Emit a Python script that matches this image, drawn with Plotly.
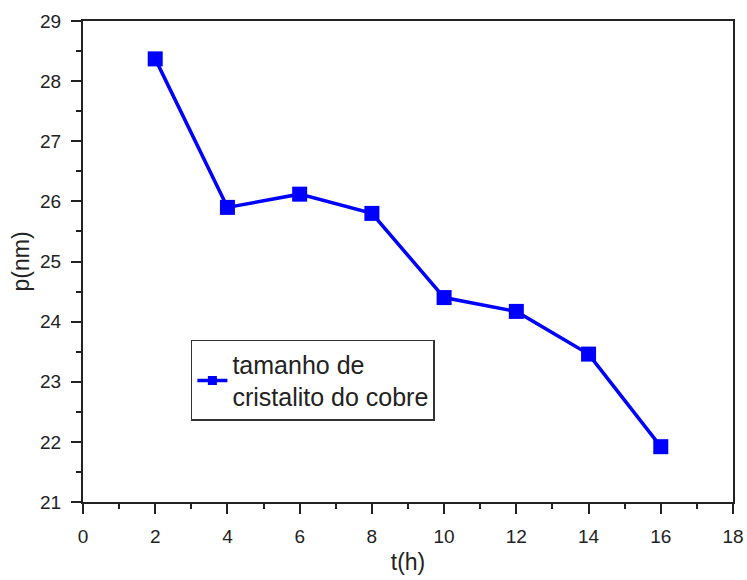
import plotly.graph_objects as go

t_hours = [2, 4, 6, 8, 10, 12, 14, 16]
p_nm = [28.37, 25.9, 26.12, 25.8, 24.4, 24.17, 23.46, 21.92]
series_name = "tamanho de<br>cristalito do cobre"

font = "Liberation Sans, Arial, sans-serif"
blue = "#0000ff"

fig = go.Figure()
fig.add_trace(go.Scatter(
    x=t_hours, y=p_nm, mode="lines+markers", name=series_name,
    line=dict(color=blue, width=3.5),
    marker=dict(symbol="square", size=15, color=blue),
    showlegend=False,
))
# legend entry with a smaller marker, like the reference
fig.add_trace(go.Scatter(
    x=[None], y=[None], mode="lines+markers", name=series_name,
    line=dict(color=blue, width=3.5),
    marker=dict(symbol="square", size=9, color=blue),
))

axis_common = dict(
    showline=True, linecolor="#222", linewidth=2, mirror=True,
    ticks="outside", ticklen=10, tickwidth=2, tickcolor="#222",
    ticklabelstandoff=6, automargin=False,
    showgrid=False, zeroline=False,
    tickfont=dict(family=font, size=19, color="#222"),
    minor=dict(ticks="outside", ticklen=5, tickwidth=2, tickcolor="#222", showgrid=False),
)

fig.update_xaxes(range=[0, 18], dtick=2, minor_dtick=1,
                 title=dict(text="t(h)", font=dict(family=font, size=23, color="#222"), standoff=8),
                 **axis_common)
fig.update_yaxes(range=[21, 29], dtick=1, minor_dtick=0.5,
                 title=dict(text="p(nm)", font=dict(family=font, size=23, color="#222"), standoff=4),
                 **axis_common)

fig.update_layout(
    width=747, height=580,
    margin=dict(l=83, r=14, t=21, b=78),
    plot_bgcolor="white", paper_bgcolor="white",
    showlegend=True,
    legend=dict(x=0.166, y=0.337, xanchor="left", yanchor="top",
                bordercolor="#333", borderwidth=1.5, bgcolor="white",
                tracegroupgap=0, itemwidth=30,
                font=dict(family=font, size=25, color="#222")),
)

fig.write_html("out.html")
